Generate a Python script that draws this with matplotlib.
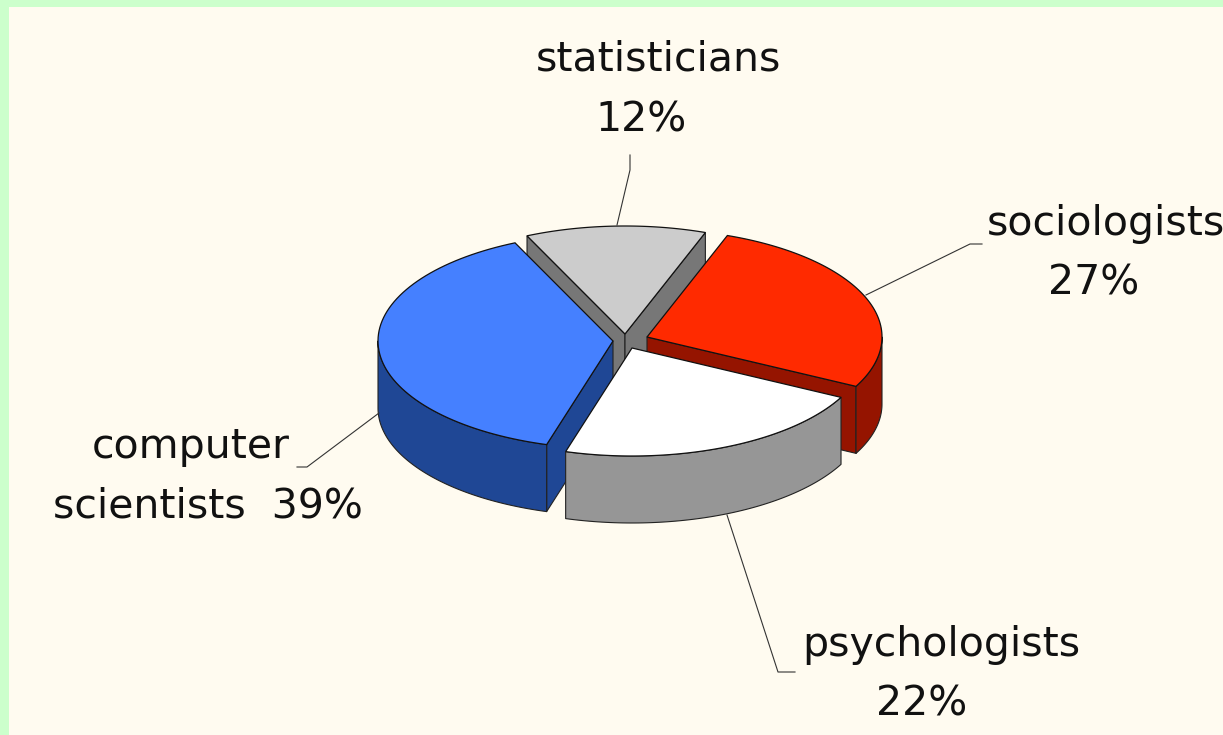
import numpy as np
import matplotlib
matplotlib.use("Agg")
import matplotlib.pyplot as plt
from matplotlib.patches import Polygon, Rectangle

# clockwise from the red slice
names = ["sociologists", "psychologists", "computer\nscientists", "statisticians"]
values = [27, 22, 38.6, 12.4]
top_colors = ["#FF2A00", "#FFFFFF", "#4580FF", "#CCCCCC"]
side_colors = ["#951400", "#969696", "#1F4795", "#777777"]
apex_x = [647, 632, 613, 625]
apex_y = [337, 348, 341, 334]
draw_order = [3, 0, 2, 1]

START = 20
RX, RY = 235, 108
DEPTH = 67

plt.rcParams["font.family"] = ["DejaVu Sans"]
fig = plt.figure(figsize=(12.23, 7.35), dpi=100, facecolor="#CCFFCC")
ax = fig.add_axes([0, 0, 1, 1])
ax.set_xlim(0, 1223)
ax.set_ylim(735, 0)
ax.axis("off")
ax.add_patch(Rectangle((9, 7), 1214, 728, fc="#FFFBF0", ec="none"))

edges = START + np.cumsum([0] + values) * 3.6


def rim(cx, cy, t0, t1):
    t = np.radians(np.linspace(t0, t1, 80))
    return np.column_stack([cx + RX * np.sin(t), cy - RY * np.cos(t)])


def extrude(pts):
    low = pts[::-1] + [0, DEPTH]
    return np.vstack([pts, low])


for i in draw_order:
    cx, cy = apex_x[i], apex_y[i]
    t0, t1 = edges[i], edges[i + 1]
    side = dict(fc=side_colors[i], ec="#222222", lw=0.8, joinstyle="round")

    # cut faces that look towards the viewer
    for t, show in ((t0, np.sin(np.radians(t0)) < 0), (t1, np.sin(np.radians(t1)) > 0)):
        if show:
            edge = np.array([[cx, cy], rim(cx, cy, t, t)[0]])
            ax.add_patch(Polygon(extrude(edge), **side))

    # outer wall, only the front half of the ellipse shows
    a, b = max(t0, 90), min(t1, 270)
    if a < b:
        ax.add_patch(Polygon(extrude(rim(cx, cy, a, b)), **side))

    top = np.vstack([[cx, cy], rim(cx, cy, t0, t1)])
    ax.add_patch(Polygon(top, fc=top_colors[i], ec="#111111", lw=0.9))

# leader lines
leaders = [
    ([630, 630, 617], [155, 170, 225]),
    ([982, 970, 866], [244, 244, 295]),
    ([297, 307, 379], [467, 467, 413]),
    ([795, 778, 727], [672, 672, 515]),
]
for xs, ys in leaders:
    ax.plot(xs, ys, color="#333333", lw=0.8)

fs = 29.5
ax.text(658, 59, "statisticians", fontsize=fs, ha="center", va="center", color="#111111")
ax.text(641, 120, "12%", fontsize=fs, ha="center", va="center", color="#111111")
ax.text(987, 224, "sociologists", fontsize=fs, ha="left", va="center", color="#111111")
ax.text(1094, 283, "27%", fontsize=fs, ha="center", va="center", color="#111111")
ax.text(191, 447, "computer", fontsize=fs, ha="center", va="center", color="#111111")
ax.text(208, 506, "scientists  39%", fontsize=fs, ha="center", va="center", color="#111111")
ax.text(941, 645, "psychologists", fontsize=fs, ha="center", va="center", color="#111111")
ax.text(922, 705, "22%", fontsize=fs, ha="center", va="center", color="#111111")

fig.savefig("out.png", dpi=100, facecolor=fig.get_facecolor())
